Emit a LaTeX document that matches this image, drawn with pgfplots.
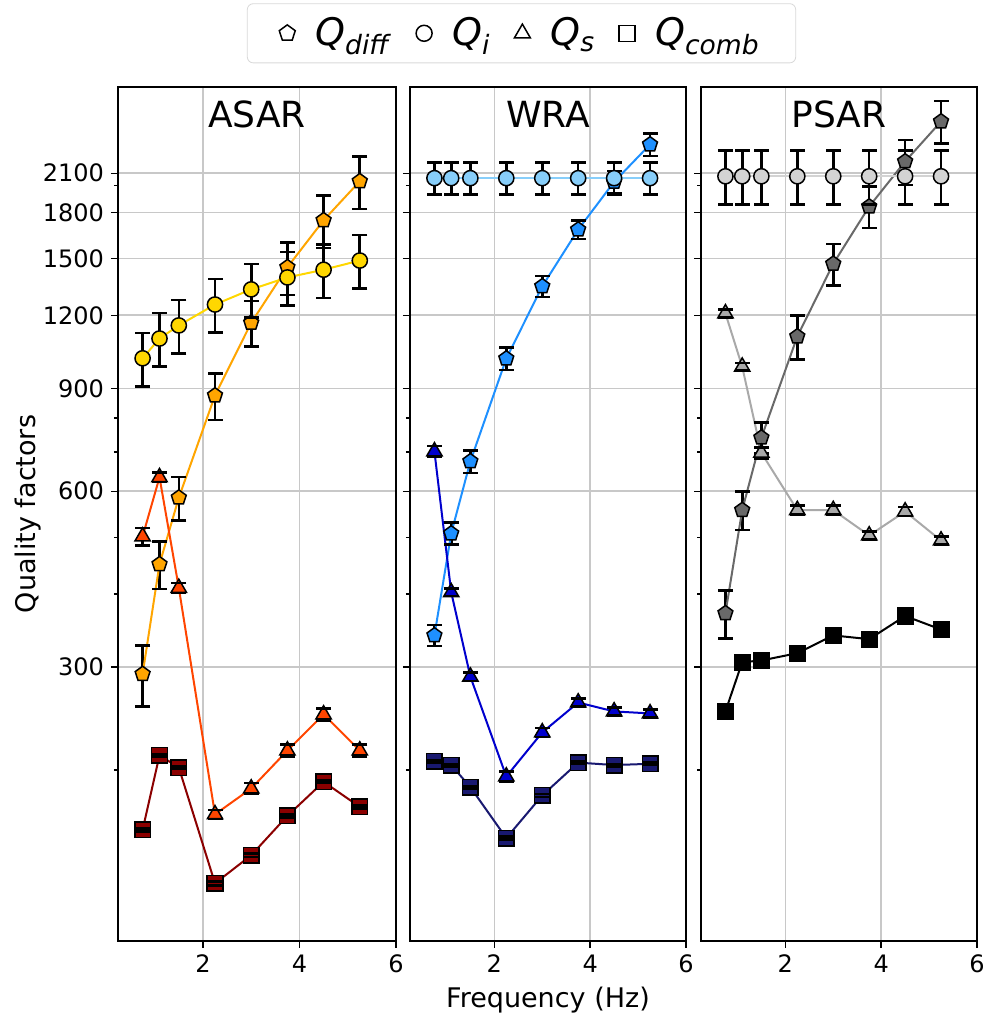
\documentclass[border=0pt]{standalone}
\usepackage{fontspec}
\setmainfont{DejaVu Sans}
\usepackage{pgfplots}
\usepackage{pgfplotstable}
\usetikzlibrary{plotmarks}
\pgfplotsset{compat=1.18}

\definecolor{cGold}{HTML}{FFD700}
\definecolor{cOrange}{HTML}{FFA500}
\definecolor{cOrRed}{HTML}{FF4500}
\definecolor{cDkRed}{HTML}{8B0000}
\definecolor{cSky}{HTML}{87CEFA}
\definecolor{cDodger}{HTML}{1E90FF}
\definecolor{cMedBlue}{HTML}{0000CD}
\definecolor{cMidnight}{HTML}{191970}
\definecolor{cLtGray}{HTML}{D3D3D3}
\definecolor{cDimGray}{HTML}{696969}
\definecolor{cDkGray}{HTML}{A9A9A9}
\definecolor{gridgray}{HTML}{C8C8C8}

% ASAR
\pgfplotstableread{
x y e
0.75 292 35
1.1 450 42
1.5 585 50
2.25 875 80
3 1165 105
3.75 1450 150
4.5 1745 180
5.25 2035 210
}\asarDiff
\pgfplotstableread{
x y e
0.75 1013 106
1.1 1095 115
1.5 1153 121
2.25 1252 132
3 1329 140
3.75 1393 147
4.5 1436 151
5.25 1489 157
}\asarI
\pgfplotstableread{
x y e
0.75 502 17
1.1 634 12
1.5 410 8
2.25 168 3
3 186 4
3.75 216 5
4.5 249 6
5.25 216 5
}\asarS
\pgfplotstableread{
x y e
0.75 158 1
1.1 212 1
1.5 202 1
2.25 128 1
3 143 1
3.75 167 1
4.5 191 1
5.25 173 1
}\asarComb
% WRA
\pgfplotstableread{
x y e
0.75 340 14
1.1 508 22
1.5 675 30
2.25 1012 45
3 1345 55
3.75 1682 60
4.5 2030 90
5.25 2352 105
}\wraDiff
\pgfplotstableread{
x y e
0.75 2060 130
1.1 2060 130
1.5 2060 130
2.25 2060 130
3 2060 130
3.75 2060 130
4.5 2060 130
5.25 2060 130
}\wraI
\pgfplotstableread{
x y e
0.75 702 15
1.1 403 6
1.5 289 5
2.25 195 4
3 232 4
3.75 261 4
4.5 252 4
5.25 250 4
}\wraS
\pgfplotstableread{
x y e
0.75 207 1
1.1 204 1
1.5 187 1
2.25 153 1
3 181 1
3.75 206 1
4.5 204 1
5.25 205 1
}\wraComb
% PSAR
\pgfplotstableread{
x y e
0.75 371 35
1.1 557 42
1.5 741 45
2.25 1104 95
3 1470 120
3.75 1842 150
4.5 2200 195
5.25 2575 215
}\psarDiff
\pgfplotstableread{
x y e
0.75 2075 220
1.1 2075 220
1.5 2075 220
2.25 2075 220
3 2075 220
3.75 2075 220
4.5 2075 220
5.25 2075 220
}\psarI
\pgfplotstableread{
x y e
0.75 1209 20
1.1 980 15
1.5 698 15
2.25 557 10
3 557 10
3.75 504 8
4.5 554 10
5.25 494 8
}\psarS
\pgfplotstableread{
x y e
0.75 252 1
1.1 306 1
1.5 308 1
2.25 317 1
3 340 1
3.75 335 1
4.5 367 1
5.25 348 1
}\psarComb

\pgfplotsset{
  every axis/.append style={
    scale only axis, height=427pt,
    xmin=0.24, xmax=6, ymin=102, ymax=2950,
    xtick={2,4,6},
    ytick={300,600,900,1200,1500,1800,2100},
    minor ytick={200,400,500,700,800,2000},
    grid=major, major grid style={gridgray, line width=0.8pt},
    tick align=outside, xtick pos=bottom, ytick pos=left,
    major tick length=3.5pt, minor tick length=2pt,
    every tick/.append style={black, line width=0.7pt},
    axis line style={line width=0.7pt},
    tick label style={font=\fontsize{12}{14}\selectfont},
    every axis label/.append style={font=\fontsize{13.5}{16}\selectfont},
    /pgf/number format/assume math mode=true,
  },
  capmark/.style={forget plot, only marks, mark=-, mark size=3.75pt,
    mark options={black, line width=1.3pt}},
}

% bars under the markers, caps over them
\newcommand{\qseries}[4]{%
  \addplot[forget plot, only marks, mark=none,
    error bars/y dir=both, error bars/y explicit,
    error bars/error bar style={black, line width=1.3pt},
    error bars/error mark=none]
    table[x=x, y=y, y error=e] {#1};
  \addplot[forget plot, color=#2, line width=1pt, mark=#3, mark size=#4,
    mark options={fill=#2, draw=black, line width=0.75pt, solid}] table[x=x, y=y] {#1};
  \addplot[capmark] table[x=x, y expr=\thisrow{y}+\thisrow{e}] {#1};
  \addplot[capmark] table[x=x, y expr=\thisrow{y}-\thisrow{e}] {#1};
}

\begin{document}
\begin{tikzpicture}
\begin{semilogyaxis}[at={(0pt,0pt)}, anchor=south west, width=139pt,
  yticklabels={300,600,900,1200,1500,1800,2100},
  ylabel={Quality factors}, ylabel style={yshift=-6pt}]
\qseries{\asarDiff}{cOrange}{pentagon*}{3.9pt}
\qseries{\asarI}{cGold}{*}{3.8pt}
\qseries{\asarS}{cOrRed}{triangle*}{4.4pt}
\qseries{\asarComb}{cDkRed}{square*}{3.9pt}
\node[font=\fontsize{18}{21}\selectfont, anchor=base] at (rel axis cs:0.5,0.952) {ASAR};
\end{semilogyaxis}

\begin{semilogyaxis}[at={(146pt,0pt)}, anchor=south west, width=138pt,
  yticklabels={}, xlabel={Frequency (Hz)},
  legend columns=4,
  legend style={at={(0.404,1.098)}, anchor=north, draw=black!15, rounded corners=3pt,
    font=\fontsize{19}{22}\selectfont, inner xsep=16pt, inner ysep=5pt,
    /tikz/every odd column/.append style={column sep=8pt},
    /tikz/every even column/.append style={column sep=10pt}},
  legend image code/.code={\draw[#1] plot coordinates {(0pt,0pt)};}]
\qseries{\wraDiff}{cDodger}{pentagon*}{3.9pt}
\qseries{\wraI}{cSky}{*}{3.8pt}
\qseries{\wraS}{cMedBlue}{triangle*}{4.4pt}
\qseries{\wraComb}{cMidnight}{square*}{3.9pt}
\node[font=\fontsize{18}{21}\selectfont, anchor=base] at (rel axis cs:0.5,0.952) {WRA};
\addlegendimage{only marks, mark=pentagon, mark size=4.2pt, mark options={fill=white, draw=black, line width=0.75pt}}
\addlegendentry{\textit{Q}\textsubscript{\textit{diff}}}
\addlegendimage{only marks, mark=o, mark size=4pt, mark options={fill=white, draw=black, line width=0.75pt}}
\addlegendentry{\textit{Q}\textsubscript{\textit{i}}}
\addlegendimage{only marks, mark=triangle, mark size=4.6pt, mark options={fill=white, draw=black, line width=0.75pt}}
\addlegendentry{\textit{Q}\textsubscript{\textit{s}}}
\addlegendimage{only marks, mark=square, mark size=4pt, mark options={fill=white, draw=black, line width=0.75pt}}
\addlegendentry{\textit{Q}\textsubscript{\textit{comb}}}
\end{semilogyaxis}

\begin{semilogyaxis}[at={(291.5pt,0pt)}, anchor=south west, width=138pt, yticklabels={}]
\qseries{\psarDiff}{cDimGray}{pentagon*}{3.9pt}
\qseries{\psarI}{cLtGray}{*}{3.8pt}
\qseries{\psarS}{cDkGray}{triangle*}{4.4pt}
\qseries{\psarComb}{black}{square*}{3.9pt}
\node[font=\fontsize{18}{21}\selectfont, anchor=base] at (rel axis cs:0.5,0.952) {PSAR};
\end{semilogyaxis}

\pgfresetboundingbox
\useasboundingbox (-59pt,-36.5pt) rectangle (436pt,470.5pt);
\end{tikzpicture}
\end{document}
